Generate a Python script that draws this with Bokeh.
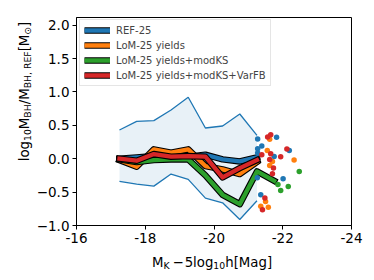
import math
from bokeh.plotting import figure
from bokeh.layouts import row, column
from bokeh.models import Range1d, FixedTicker, Label, Legend, LegendItem
from bokeh.embed import file_html
from bokeh.resources import INLINE

# ---------------- data ----------------
mag_bins = [-17.25, -17.75, -18.25, -18.75, -19.25, -19.75, -20.25, -20.75, -21.25]
mag_bins_modks = [-17.25, -17.75, -18.25, -18.75, -19.25, -19.75, -20.25, -20.75, -21.25, -21.75]

ref_upper = [0.43, 0.56, 0.57, 0.73, 0.92, 0.46, 0.49, 0.67, 0.35]
ref_lower = [-0.34, -0.38, -0.41, -0.23, -0.31, -0.59, -0.66, -0.91, -0.63]

ref_median = [0.00, 0.02, 0.04, 0.03, 0.03, 0.06, -0.01, -0.04, 0.02]
lom_median = [-0.02, -0.12, 0.14, 0.09, 0.14, -0.11, -0.16, -0.23, -0.05]
modks_median = [-0.01, -0.05, -0.02, -0.01, -0.01, -0.25, -0.54, -0.68, -0.19, -0.33]
varfb_median = [0.00, -0.03, 0.07, 0.03, 0.04, 0.03, -0.28, -0.14, -0.02]

ref_pts_x = [-21.27, -21.82, -21.39, -21.27, -21.27, -21.75, -22.19, -22.01, -21.26, -21.36]
ref_pts_y = [0.295, 0.32, 0.19, 0.15, 0.085, 0.035, 0.125, -0.30, -0.285, -0.54]

lom_pts_x = [-21.62, -21.55, -21.70, -21.62, -22.33, -21.50, -21.36, -21.58]
lom_pts_y = [0.29, 0.125, -0.04, -0.10, -0.02, -0.64, -0.71, -0.725]

modks_pts_x = [-21.86, -21.94, -22.16, -22.48]
modks_pts_y = [-0.385, -0.475, -0.415, -0.19]

varfb_pts_x = [-21.56, -21.65, -22.12, -21.94, -21.39, -21.65, -21.62, -21.73, -21.70, -21.48, -21.41]
varfb_pts_y = [0.325, 0.36, 0.145, 0.03, 0.06, 0.075, -0.01, -0.14, -0.225, -0.59, -0.765]

series_names = ["REF-25", "LoM-25 yields", "LoM-25 yields+modKS", "LoM-25 yields+modKS+VarFB"]
series_colors = ["#1f77b4", "#ff7f0e", "#2ca02c", "#d62728"]

x_ticks = [-16, -18, -20, -22, -24]
x_tick_labels = ["-16", "-18", "-20", "-22", "-24"]
y_ticks = [-1.0, -0.5, 0.0, 0.5, 1.0, 1.5, 2.0]
y_tick_labels = ["\u22121.0", "\u22120.5", "0.0", "0.5", "1.0", "1.5", "2.0"]

FONT = "DejaVu Sans"
TICK_FS = "13.5px"

X0, X1 = -16.0, -24.0
Y0, Y1 = -1.0, 2.115
FW, FH = 275, 208

YLAB_W = 33
MAIN_H = 17 + FH + 30
XLAB_H = 24

# ---------------- main figure ----------------
p = figure(frame_width=FW, frame_height=FH,
           x_range=Range1d(X0, X1), y_range=Range1d(Y0, Y1),
           output_backend="svg", toolbar_location=None,
           min_border_left=74 - YLAB_W, min_border_right=24, min_border_top=17, min_border_bottom=30)
p.grid.visible = False
p.outline_line_color = "black"
p.outline_line_width = 1
p.background_fill_color = "white"
p.border_fill_color = "white"

for ax in (p.xaxis[0], p.yaxis[0]):
    ax.minor_tick_line_color = None
    ax.major_tick_in = 0
    ax.major_tick_out = 4
    ax.major_tick_line_color = "black"
    ax.axis_line_color = "black"
    ax.major_label_text_font = FONT
    ax.major_label_text_font_size = TICK_FS
    ax.major_label_text_color = "black"

p.xaxis.ticker = FixedTicker(ticks=x_ticks)
p.xaxis.major_label_overrides = dict(zip(x_ticks, x_tick_labels))
p.xaxis.major_label_standoff = 3
p.yaxis.ticker = FixedTicker(ticks=y_ticks)
p.yaxis.major_label_overrides = dict(zip(y_ticks, y_tick_labels))
p.yaxis.major_label_standoff = 3

# band of REF-25
p.varea(x=mag_bins, y1=ref_lower, y2=ref_upper, fill_color=series_colors[0], fill_alpha=0.1)
p.line(mag_bins, ref_upper, line_color=series_colors[0], line_width=1.3)
p.line(mag_bins, ref_lower, line_color=series_colors[0], line_width=1.3)

# median lines with black outline
medians = [(mag_bins, ref_median), (mag_bins, lom_median),
           (mag_bins_modks, modks_median), (mag_bins, varfb_median)]
for (mx, my), c in zip(medians, series_colors):
    p.line(mx, my, line_color="black", line_width=6.5, line_join="round", line_cap="square")
    p.line(mx, my, line_color=c, line_width=4.3, line_join="round", line_cap="square")

# individual points
points = [(ref_pts_x, ref_pts_y), (lom_pts_x, lom_pts_y),
          (modks_pts_x, modks_pts_y), (varfb_pts_x, varfb_pts_y)]
for (px, py), c in zip(points, series_colors):
    p.scatter(px, py, size=5.5, fill_color=c, line_color=None)

# legend proxies (outside visible range)
items = []
for name, c in zip(series_names, series_colors):
    r1 = p.line(x=[-40, -41], y=[5, 5], line_color="black", line_width=6.5)
    r2 = p.line(x=[-40, -41], y=[5, 5], line_color=c, line_width=4.5)
    items.append(LegendItem(label=name, renderers=[r1, r2]))
legend = Legend(items=items, location=(3, 139), margin=0,
                padding=4, spacing=3, label_height=12, glyph_height=12, glyph_width=26,
                label_standoff=6, label_text_font=FONT, label_text_font_size="10px",
                border_line_color="#cccccc", border_line_width=1,
                background_fill_color="white", background_fill_alpha=0.8)
p.add_layout(legend)

# ---------------- axis label panels ----------------
W = {'l': 0.278, 'o': 0.612, 'g': 0.635, '1': 0.636, '0': 0.636, 'M': 0.863, 'B': 0.686,
     'H': 0.752, '/': 0.337, ',': 0.318, ' ': 0.318, 'R': 0.695, 'E': 0.632, 'F': 0.575,
     '[': 0.390, ']': 0.390, '\u2299': 0.838, 'K': 0.656, '\u2212': 0.838, '5': 0.636,
     'h': 0.634, 'a': 0.613}
LS = 13.3
SS = LS * 0.7

def tw(s, fs):
    return sum(W.get(ch, 0.6) for ch in s) * fs

def blank_fig(w, h):
    f = figure(width=w, height=h, x_range=Range1d(0, w), y_range=Range1d(0, h),
               output_backend="svg", toolbar_location=None, min_border=0,
               x_axis_location=None, y_axis_location=None)
    f.grid.visible = False
    f.outline_line_color = None
    f.background_fill_color = "white"
    f.border_fill_color = "white"
    return f

# y label: pieces (text, is_sub)
fy = blank_fig(YLAB_W, MAIN_H)
ylab = [("log", 0), ("10", 1), ("M", 0), ("BH", 1), ("/M", 0), ("BH, REF", 1),
        ("[M", 0), ("\u2299", 1), ("]", 0)]
ytot = sum(tw(t, SS if s else LS) for t, s in ylab)
centre_y = MAIN_H - 17 - FH / 2.0
pos = centre_y - ytot / 2.0
for t, s in ylab:
    fs = SS if s else LS
    fy.add_layout(Label(x=24 + (3 if s else 0), y=pos, x_units="screen", y_units="screen",
                        text=t, angle=math.pi / 2, text_font=FONT, text_font_size=f"{fs:.2f}px",
                        text_align="left", text_baseline="alphabetic", text_color="black"))
    pos += tw(t, fs)

# x label
TOT_W = 74 + FW + 24
fx = blank_fig(TOT_W, XLAB_H)
xlab = [("M", 0, 0), ("K", 1, 0), ("\u2212", 0, 3), ("5log", 0, 1), ("10", 1, 0), ("h[Mag]", 0, 0)]
xtot = sum(tw(t, SS if s else LS) + g for t, s, g in xlab)
pos = 74 + FW / 2.0 - xtot / 2.0
base = XLAB_H - 6.5
for t, s, g in xlab:
    fs = SS if s else LS
    pos += g
    fx.add_layout(Label(x=pos, y=base - (3 if s else 0), x_units="screen", y_units="screen",
                        text=t, text_font=FONT, text_font_size=f"{fs:.2f}px",
                        text_align="left", text_baseline="alphabetic", text_color="black"))
    pos += tw(t, fs)

layout = column(row(fy, p, spacing=0), fx, spacing=0)
open("out.html", "w").write(file_html(layout, INLINE))
